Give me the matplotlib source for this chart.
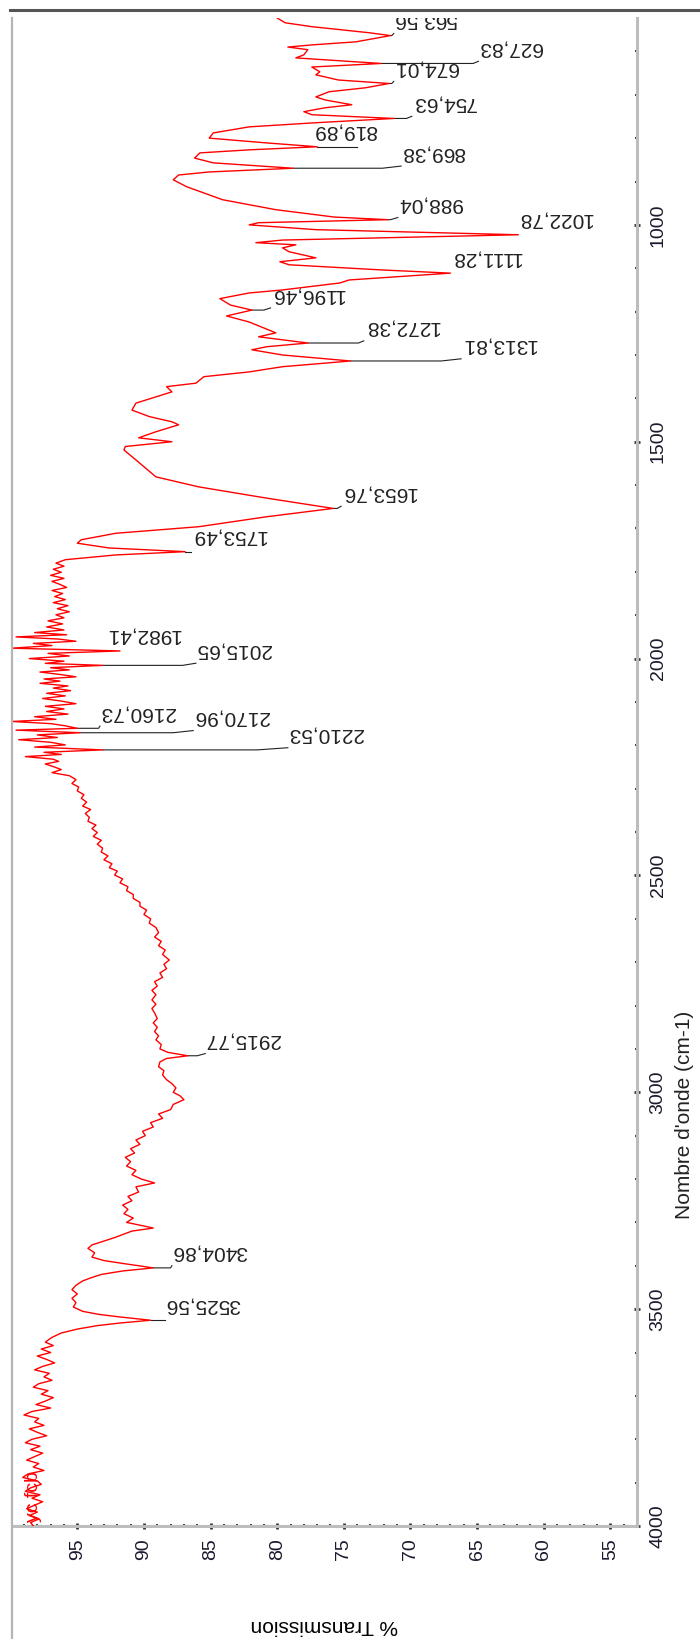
import matplotlib
matplotlib.use('Agg')
import matplotlib.pyplot as plt
from matplotlib.lines import Line2D
from matplotlib.ticker import MultipleLocator

plt.rcParams['font.family'] = ['Liberation Sans', 'DejaVu Sans']

# spectrum, in pieces: wavenumber (cm-1) and % transmission
wn_fingerprint = [
    523, 534, 543, 557, 563.56, 578, 585, 590, 596, 608, 615, 627.83, 636, 647, 654,
    666, 674.01, 684, 693, 705, 712, 723, 730, 739, 746, 754.63, 765, 774, 788, 800,
    811, 819.89, 827, 834, 846, 857, 869.38, 878, 885, 896, 912, 942, 965, 982, 988.04,
    995, 1000, 1011, 1022.78, 1035, 1041, 1046, 1053, 1062, 1076, 1085, 1092, 1104,
    1111.28, 1127, 1134, 1150, 1157, 1170, 1185, 1196.46, 1210, 1224, 1249, 1258,
    1272.38, 1281, 1288, 1300, 1313.81, 1327, 1339, 1350, 1365, 1373, 1385, 1411,
    1427, 1442, 1454, 1461, 1477, 1491, 1500, 1511, 1519, 1542, 1581, 1604, 1630,
    1653.76, 1673, 1696, 1711, 1726, 1734, 1745, 1753.49, 1761,
]
t_fingerprint = [
    80.0, 79.4, 77.4, 73.1, 71.5, 74.1, 77.4, 79.2, 77.7, 78.0, 78.6, 72.2, 77.4, 76.8, 77.1,
    75.4, 71.6, 73.4, 76.1, 77.1, 76.4, 74.4, 76.4, 78.0, 77.4, 71.25, 77.4, 82.1, 84.8, 85.1,
    80.8, 77.0, 82.1, 85.8, 86.2, 84.8, 78.8, 85.1, 87.4, 87.8, 86.8, 84.1, 80.1, 75.7, 71.7,
    81.4, 82.1, 77.1, 61.9, 79.6, 81.6, 78.6, 79.6, 79.1, 77.1, 79.8, 79.1, 72.1,
    67.0, 74.6, 75.3, 79.6, 82.1, 84.3, 83.5, 81.9, 83.8, 82.1, 80.1, 81.4,
    77.7, 80.8, 81.9, 79.6, 74.5, 79.6, 82.1, 85.5, 86.1, 88.3, 87.9, 90.6,
    90.9, 89.6, 87.9, 87.4, 89.1, 90.4, 87.9, 91.4, 91.5, 90.6, 89.1, 85.9, 80.8,
    75.8, 80.8, 85.9, 92.1, 94.7, 95.0, 92.6, 86.9, 92.1,
]

wn_noisy = [
    1772, 1780, 1787, 1794, 1801, 1808, 1815, 1822, 1829, 1836, 1843, 1850, 1857, 1864,
    1871, 1878, 1885, 1892, 1899, 1906, 1913, 1920, 1927, 1934, 1940, 1945, 1950, 1955,
    1960, 1965, 1970, 1976, 1982.41, 1988, 1994, 2000, 2006, 2011, 2015.65, 2021, 2026,
    2031, 2037, 2042, 2047, 2052, 2057, 2063, 2068, 2074, 2080, 2086, 2092, 2098, 2104,
    2110, 2116, 2122, 2128, 2134, 2140, 2145, 2150, 2155, 2160.73, 2165, 2170.96, 2176,
    2182, 2187, 2193, 2199, 2204, 2210.53, 2216, 2221, 2226, 2232, 2237, 2243, 2249,
    2256, 2263, 2270,
]
t_noisy = [
    95.9, 96.6, 96.0, 96.8, 96.2, 97.0, 96.0, 96.9, 96.3, 95.8, 96.9, 96.1, 96.7, 95.9,
    96.8, 95.7, 96.5, 95.6, 96.6, 96.0, 97.2, 96.1, 97.3, 96.0, 98.2, 95.8, 99.6, 96.4,
    95.1, 98.3, 96.9, 99.9, 91.8, 97.2, 95.6, 98.6, 96.0, 97.4, 93.1, 97.0, 95.6,
    97.8, 96.2, 95.1, 97.5, 96.3, 97.8, 95.7, 96.8, 95.5, 97.3, 95.9, 97.6, 96.2, 95.1,
    97.4, 96.0, 97.3, 95.7, 98.2, 96.6, 99.9, 97.0, 95.9, 95.0, 99.6, 94.8, 98.0,
    96.5, 99.4, 97.0, 95.9, 98.2, 93.1, 97.5, 96.2, 98.9, 96.8, 96.4, 97.4, 96.8,
    96.2, 96.9, 95.6,
]

wn_slope = [
    2279, 2288, 2296, 2305, 2314, 2322, 2331, 2340, 2348, 2357, 2366, 2375, 2384, 2392,
    2401, 2410, 2419, 2428, 2437, 2446, 2455, 2464, 2473, 2482, 2490, 2499, 2508, 2517,
    2526, 2535, 2544, 2553, 2562, 2571, 2580, 2590, 2600, 2610, 2620, 2632, 2642, 2652,
    2662, 2672, 2682, 2695, 2705, 2715, 2725, 2735, 2745, 2755, 2765, 2775, 2787, 2797,
    2807, 2817, 2830, 2840, 2850, 2860, 2870, 2879, 2890, 2900, 2908, 2915.77, 2922,
    2930, 2941, 2950, 2960, 2971, 2980, 2990, 3000, 3008,
]
t_slope = [
    95.1, 95.4, 94.9, 95.0, 94.5, 94.7, 94.3, 94.6, 94.0, 94.4, 94.1, 94.2, 93.6, 93.9,
    93.5, 93.8, 93.2, 93.5, 93.1, 93.2, 92.7, 93.0, 92.4, 92.6, 92.0, 92.2, 91.6, 91.8,
    91.2, 91.3, 90.8, 90.8, 90.3, 90.3, 89.8, 90.0, 89.5, 89.6, 89.1, 88.9, 89.2, 88.7,
    88.9, 88.4, 88.6, 88.1, 88.5, 88.3, 88.8, 88.6, 89.2, 89.0, 89.4, 89.1, 89.4, 89.1,
    89.4, 89.2, 89.0, 89.3, 89.0, 89.2, 88.9, 89.1, 88.7, 88.8, 88.2, 86.7, 88.3,
    88.8, 88.9, 88.5, 88.6, 88.3, 87.9, 87.6, 87.8, 87.3,
]

wn_oh = [
    3017, 3028, 3040, 3050, 3060, 3070, 3080, 3090, 3100, 3110, 3120, 3130, 3140, 3150,
    3160, 3170, 3180, 3190, 3200, 3209, 3218, 3230, 3240, 3250, 3260, 3270, 3280, 3290,
    3300, 3307, 3313, 3320, 3328, 3335, 3345, 3352, 3360, 3370, 3380, 3388, 3395,
    3404.86, 3412, 3420, 3428, 3435, 3445, 3455, 3465, 3475, 3485, 3495, 3505, 3512,
    3518, 3525.56, 3532, 3538, 3546, 3555, 3565,
]
t_oh = [
    87.0, 87.8, 88.0, 88.9, 88.6, 89.5, 89.3, 90.1, 89.9, 90.6, 90.3, 91.0, 90.7, 91.4,
    91.0, 91.3, 90.6, 90.9, 90.2, 89.2, 90.6, 90.4, 91.2, 90.9, 91.6, 91.2, 91.5, 90.8,
    91.3, 90.2, 89.3, 90.9, 91.6, 92.2, 93.2, 93.9, 94.2, 93.7, 93.9, 93.0, 91.5,
    89.3, 91.6, 93.2, 94.0, 94.6, 95.1, 95.4, 95.0, 95.4, 95.1, 95.3, 94.6, 93.4,
    91.8, 89.5, 91.8, 93.5, 95.0, 96.2, 96.9,
]

wn_baseline = [
    3576, 3584, 3592, 3600, 3608, 3616, 3624, 3632, 3640, 3648, 3656, 3664, 3672, 3680,
    3688, 3696, 3704, 3712, 3720, 3728, 3736, 3744, 3752, 3760, 3768, 3776, 3784, 3792,
    3800, 3808, 3816, 3824, 3832, 3840, 3848, 3856, 3864, 3872, 3880, 3888, 3896, 3904,
    3912, 3920, 3928, 3936, 3944, 3952, 3960, 3968, 3976, 3984, 3992, 4000,
]
t_baseline = [
    97.4, 96.8, 97.7, 97.0, 98.0, 97.3, 96.7, 97.6, 98.2, 97.1, 97.5, 96.9, 97.9, 98.3,
    97.2, 97.7, 96.8, 97.4, 98.1, 97.0, 98.4, 99.0, 97.9, 98.2, 97.5, 98.6, 98.0, 97.3,
    98.4, 98.9, 97.8, 98.5, 97.6, 98.2, 98.8, 97.9, 98.3, 97.5, 98.7, 99.1, 98.0, 97.7,
    98.5, 98.9, 97.8, 98.4, 97.6, 98.2, 98.8, 98.0, 98.6, 97.9, 98.5, 98.3,
]

# peak labels: text, wavenumber, %T at the tip, %T where the leader ends, %T of the text edge
peak_names = ['563,56', '627,83', '674,01', '754,63', '819,89', '869,38', '988,04',
              '1022,78', '1111,28', '1196,46', '1272,38', '1313,81', '1653,76',
              '1753,49', '1982,41', '2015,65', '2160,73', '2170,96', '2210,53',
              '2915,77', '3404,86', '3525,56']
peak_wn = [563.56, 627.83, 674.01, 754.63, 819.89, 869.38, 988.04, 1022.78, 1111.28,
           1196.46, 1272.38, 1313.81, 1653.76, 1753.49, 1982.41, 2015.65, 2160.73,
           2170.96, 2210.53, 2915.77, 3404.86, 3525.56]
peak_t = [71.5, 72.2, 71.6, 71.25, 77.0, 78.8, 71.7, 61.9, 67.0, 81.9, 77.7, 74.5,
          75.8, 86.9, 91.8, 93.1, 95.0, 94.8, 93.1, 86.7, 89.3, 89.5]
lead_t = [71.4, 65.3, 71.4, 70.3, 74.0, 72.1, 71.5, 61.9, 67.0, 81.0, 73.9, 67.7,
          75.5, 86.5, 91.8, 87.1, 93.4, 87.8, 81.5, 86.0, 88.0, 88.4]
text_t = [71.25, 64.9, 71.25, 69.9, 77.3, 70.7, 70.95, 62.0, 67.0, 80.5, 73.5, 66.2,
          75.2, 86.5, 92.9, 86.1, 93.3, 86.3, 79.2, 85.4, 87.9, 88.4]

wavenumber = wn_fingerprint + wn_noisy + wn_slope + wn_oh + wn_baseline
transmission = t_fingerprint + t_noisy + t_slope + t_oh + t_baseline

W, H = 700, 1639
fig = plt.figure(figsize=(W / 100, H / 100), dpi=100)
ax = fig.add_axes([12 / W, 1 - 1526 / H, (637 - 12) / W, (1526 - 18) / H])

ax.plot(transmission, wavenumber, color='#ff0000', lw=1.0, zorder=3)

for name, wn, tp, te, tt in zip(peak_names, peak_wn, peak_t, lead_t, text_t):
    xs, ys = [tp, te], [wn, wn]
    if tt < te:
        xs.append(tt)
        ys.append(wn - 5)
    ax.plot(xs, ys, color='#222222', lw=0.8, zorder=2)
    ax.text(tt, wn - 14, name, rotation=180, ha='left', va='bottom',
            fontsize=15, color='#222222', clip_on=True)

ax.text(98.9, 3991, 'yc fcb', rotation=90, ha='left', va='bottom',
        fontsize=14, color='#ff0000')

ax.set_xlim(99.9, 53.0)
ax.set_ylim(4000, 523)

ax.xaxis.set_major_locator(MultipleLocator(5))
ax.xaxis.set_minor_locator(MultipleLocator(1))
ax.yaxis.set_major_locator(MultipleLocator(500))
ax.yaxis.set_minor_locator(MultipleLocator(100))
ax.yaxis.tick_right()

ax.tick_params(which='major', direction='inout', length=4, width=2, color='#333333',
               labelsize=14, labelcolor='#1a1a2e', labelrotation=90, pad=7)
ax.tick_params(which='minor', direction='inout', length=2.5, width=1.5, color='#444444')
for lab in ax.get_xticklabels():
    lab.set_va('top')
for lab in ax.get_yticklabels():
    lab.set_ha('left')
    lab.set_va('center')

for side in ['top', 'left']:
    ax.spines[side].set_visible(False)
for side in ['bottom', 'right']:
    ax.spines[side].set_color('#bdbdbd')
    ax.spines[side].set_linewidth(2.2)

ax.set_xlabel('% Transmission', fontsize=15, rotation=180, labelpad=40)
fig.text(684 / W, 1 - 1115 / H, "Nombre d'onde (cm-1)", rotation=90,
         ha='center', va='center', fontsize=15, color='#222222')

# window frame lines
fig.add_artist(Line2D([10 / W, 1], [1 - 10 / H] * 2, color='#555555', lw=2.2))
fig.add_artist(Line2D([12 / W] * 2, [0, 1 - 18 / H], color='#b5b5b5', lw=1.6))

fig.savefig('out.png', dpi=100)
